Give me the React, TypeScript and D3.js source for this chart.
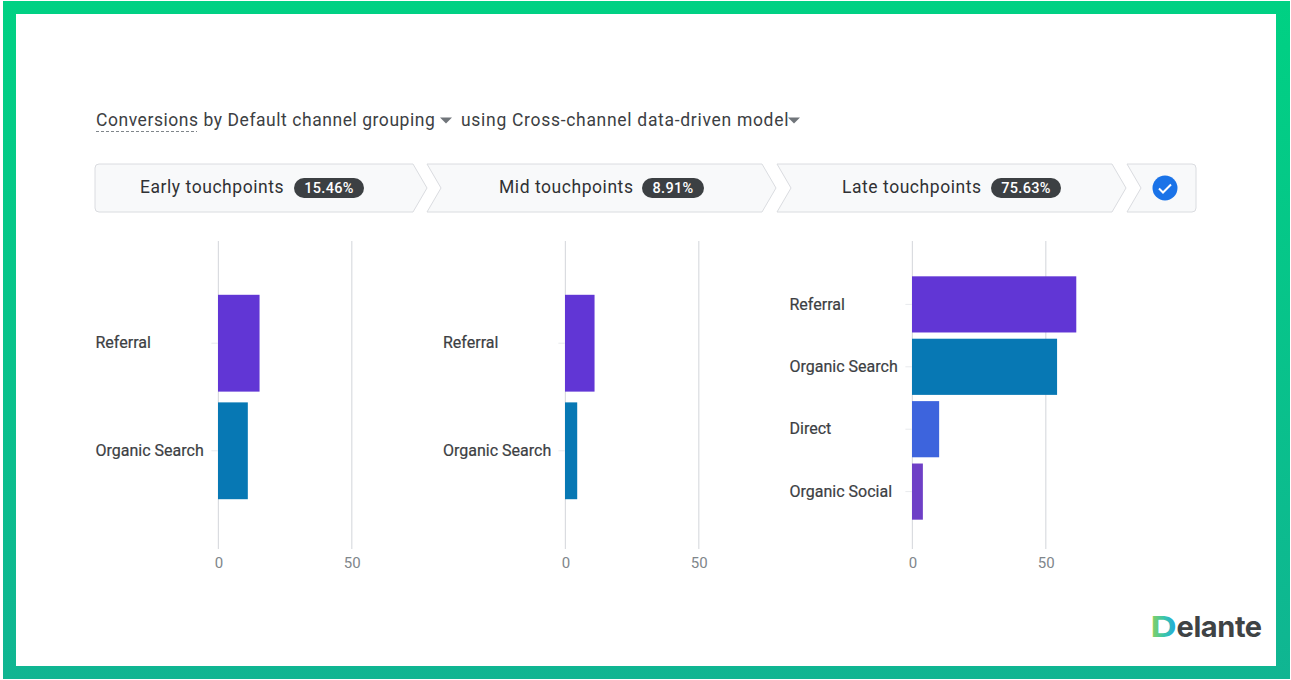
import React, { useEffect, useRef } from "react";
import * as d3 from "d3";

const WIDTH = 1291;
const HEIGHT = 680;

const stageNames = ["Early touchpoints", "Mid touchpoints", "Late touchpoints"];
const stageShares = ["15.46%", "8.91%", "75.63%"];

const earlyChannels = ["Referral", "Organic Search"];
const earlyValues = [15.5, 11.1];
const midChannels = ["Referral", "Organic Search"];
const midValues = [11, 4.5];
const lateChannels = ["Referral", "Organic Search", "Direct", "Organic Social"];
const lateValues = [61.5, 54.3, 10.1, 4];
const axisTicks = [0, 50];

const channelColors: Record<string, string> = {
  Referral: "#6136d5",
  "Organic Search": "#0778b4",
  Direct: "#3d64dd",
  "Organic Social": "#6e3fc6",
};

const TEXT = "#3c4043";
const FONT = "Roboto, sans-serif";

interface IPanel {
  channels: string[];
  values: number[];
  x0: number;
  top: number;
  outer: number;
  labelX: number;
}

const panels: IPanel[] = [
  { channels: earlyChannels, values: earlyValues, x0: 218.4, top: 241, outer: 0.5, labelX: 95.5 },
  { channels: midChannels, values: midValues, x0: 565.4, top: 241, outer: 0.5, labelX: 443 },
  { channels: lateChannels, values: lateValues, x0: 912.4, top: 242, outer: 0.55, labelX: 789.5 },
];

const App = () => {
  const svgRef = useRef<SVGSVGElement>(null);

  useEffect(() => {
    const svg = d3.select(svgRef.current);
    svg.selectAll("*").remove();

    // green frame
    const defs = svg.append("defs");
    const grad = defs
      .append("linearGradient")
      .attr("id", "frame")
      .attr("x1", 0)
      .attr("y1", 0)
      .attr("x2", 0)
      .attr("y2", 1);
    grad.append("stop").attr("offset", "0%").attr("stop-color", "#00d183");
    grad.append("stop").attr("offset", "100%").attr("stop-color", "#10b592");

    const logoGrad = defs
      .append("linearGradient")
      .attr("id", "logoD")
      .attr("x1", 0)
      .attr("y1", 0)
      .attr("x2", 1)
      .attr("y2", 0);
    logoGrad.append("stop").attr("offset", "0%").attr("stop-color", "#8fd05a");
    logoGrad.append("stop").attr("offset", "50%").attr("stop-color", "#3cc6a8");
    logoGrad.append("stop").attr("offset", "100%").attr("stop-color", "#1fa8e0");

    svg
      .append("path")
      .attr("fill-rule", "evenodd")
      .attr("fill", "url(#frame)")
      .attr("d", "M3,1H1290V679H3Z M16,14V666H1276V14Z");

    // title row
    const title = svg
      .append("g")
      .attr("font-family", FONT)
      .attr("font-size", 17.5)
      .attr("fill", TEXT);
    title
      .append("text")
      .attr("x", 96)
      .attr("y", 126)
      .attr("letter-spacing", 0.55)
      .text("Conversions by Default channel grouping");
    title
      .append("text")
      .attr("x", 461)
      .attr("y", 126)
      .attr("letter-spacing", 0.7)
      .text("using Cross-channel data-driven model");
    svg
      .append("line")
      .attr("x1", 96)
      .attr("x2", 197)
      .attr("y1", 131.5)
      .attr("y2", 131.5)
      .attr("stroke", "#80868b")
      .attr("stroke-width", 1.2)
      .attr("stroke-dasharray", "3 2");
    [440, 788].forEach((x) => {
      svg
        .append("path")
        .attr("d", `M${x},117.5h12l-6,6Z`)
        .attr("fill", "#70757a");
    });

    // touchpoint steps
    const top = 164;
    const bottom = 212;
    const mid = 188;
    const stepPaths = [
      `M99,${top}H413L427,${mid}L413,${bottom}H99Q95,${bottom} 95,${bottom - 4}V${top + 4}Q95,${top} 99,${top}Z`,
      `M427,${top}H762L776,${mid}L762,${bottom}H427L441,${mid}Z`,
      `M777,${top}H1112L1126,${mid}L1112,${bottom}H777L791,${mid}Z`,
      `M1127,${top}H1192Q1196,${top} 1196,${top + 4}V${bottom - 4}Q1196,${bottom} 1192,${bottom}H1127L1141,${mid}Z`,
    ];
    svg
      .append("g")
      .selectAll("path")
      .data(stepPaths)
      .join("path")
      .attr("d", (d) => d)
      .attr("fill", "#f8f9fa")
      .attr("stroke", "#dadce0")
      .attr("stroke-width", 1);

    const nameX = [140, 499, 842];
    const pillX = [294, 642, 991];
    const pillW = [70, 62, 70];
    stageNames.forEach((name, i) => {
      const g = svg.append("g").attr("font-family", FONT);
      g.append("text")
        .attr("x", nameX[i])
        .attr("y", 193)
        .attr("font-size", 17.5)
        .attr("letter-spacing", 0.55)
        .attr("fill", "#303134")
        .text(name);
      g.append("rect")
        .attr("x", pillX[i])
        .attr("y", 178)
        .attr("width", pillW[i])
        .attr("height", 20)
        .attr("rx", 10)
        .attr("fill", "#3c4043");
      g.append("text")
        .attr("x", pillX[i] + pillW[i] / 2)
        .attr("y", 193)
        .attr("text-anchor", "middle")
        .attr("font-size", 14.5)
        .attr("font-weight", 500)
        .attr("letter-spacing", 0.3)
        .attr("fill", "#ffffff")
        .text(stageShares[i]);
    });

    svg.append("circle").attr("cx", 1165).attr("cy", 188).attr("r", 12.5).attr("fill", "#1a73e8");
    svg
      .append("path")
      .attr("d", "M1159,188.5l4,4l8,-8")
      .attr("fill", "none")
      .attr("stroke", "#ffffff")
      .attr("stroke-width", 2);

    // bar panels
    panels.forEach((panel) => {
      const x = d3.scaleLinear().domain([0, 50]).range([panel.x0, panel.x0 + 133.4]);
      const y = d3
        .scaleBand()
        .domain(panel.channels)
        .range([panel.top, panel.top + 312])
        .paddingInner(0.1)
        .paddingOuter(panel.outer);

      const g = svg.append("g");

      g.selectAll("line.grid")
        .data(axisTicks)
        .join("line")
        .attr("class", "grid")
        .attr("x1", (d) => x(d))
        .attr("x2", (d) => x(d))
        .attr("y1", 241)
        .attr("y2", 549)
        .attr("stroke", "#dadce0")
        .attr("stroke-width", 1.2);

      const xAxis = g
        .append("g")
        .attr("transform", "translate(0,549)")
        .call(d3.axisBottom(x).tickValues(axisTicks).tickSize(0).tickPadding(8));
      xAxis.select(".domain").remove();
      xAxis
        .selectAll("text")
        .attr("font-family", FONT)
        .attr("font-size", 15)
        .attr("fill", "#80868b");

      const yAxis = g
        .append("g")
        .attr("transform", `translate(${panel.x0},0)`)
        .call(d3.axisLeft(y).tickSize(7).tickPadding(0));
      yAxis.select(".domain").remove();
      yAxis.selectAll("line").attr("stroke", "#e8eaed");
      yAxis
        .selectAll("text")
        .attr("font-family", FONT)
        .attr("font-size", 16)
        .attr("fill", TEXT)
        .attr("stroke", TEXT)
        .attr("stroke-width", 0.2)
        .attr("text-anchor", "start")
        .attr("x", panel.labelX - panel.x0);

      g.selectAll("rect")
        .data(panel.channels)
        .join("rect")
        .attr("x", x(0) - 0.4)
        .attr("y", (d) => y(d) as number)
        .attr("width", (_, i) => x(panel.values[i]) - x(0) + 0.2)
        .attr("height", y.bandwidth())
        .attr("fill", (d) => channelColors[d]);
    });

    // logo
    const logo = svg
      .append("g")
      .attr("font-family", "Inter, sans-serif")
      .attr("font-size", 29)
      .attr("font-weight", 700);
    logo
      .append("text")
      .attr("transform", "translate(1150.5,637) scale(1.25,1)")
      .attr("fill", "url(#logoD)")
      .text("D");
    logo
      .append("text")
      .attr("x", 1176.5)
      .attr("y", 637)
      .attr("letter-spacing", -0.4)
      .attr("fill", "#3f4345")
      .text("elante");
  }, []);

  return (
    <svg
      ref={svgRef}
      width={WIDTH}
      height={HEIGHT}
      style={{ position: "absolute", left: 0, top: 0, display: "block", background: "#ffffff" }}
    />
  );
};

export default App;
